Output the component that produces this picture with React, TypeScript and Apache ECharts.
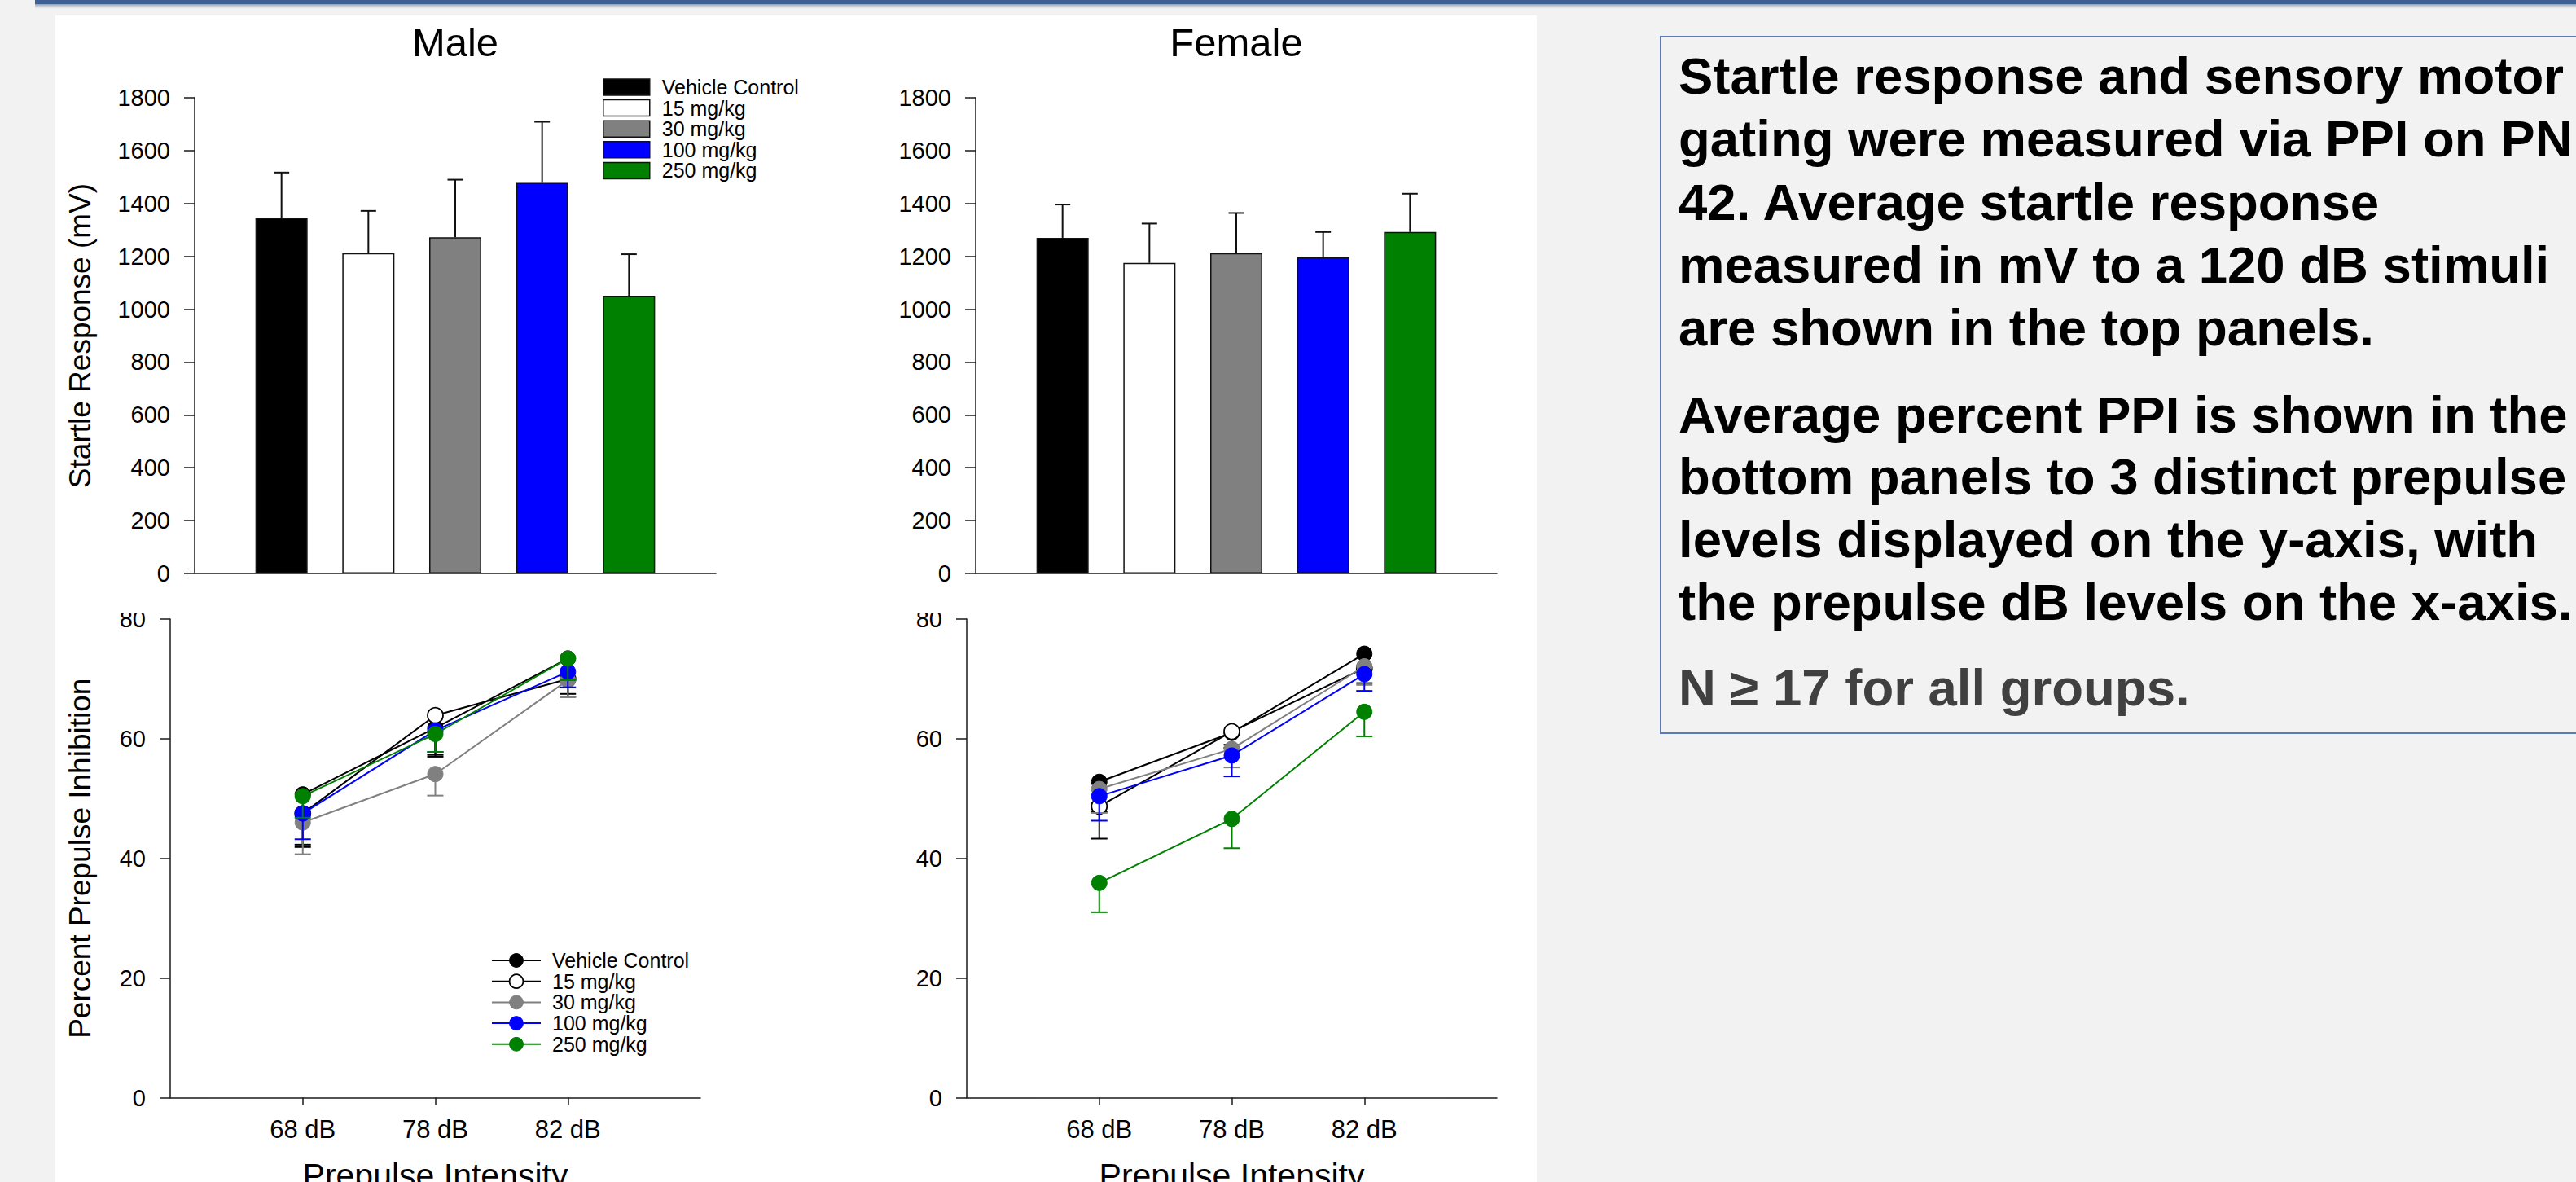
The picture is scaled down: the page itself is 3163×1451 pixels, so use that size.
import React, { useEffect, useRef } from 'react';
import * as echarts from 'echarts';

const FONT = 'Liberation Sans';

// Groups / legend
const groups = ['Vehicle Control', '15 mg/kg', '30 mg/kg', '100 mg/kg', '250 mg/kg'];
const barColors = ['#000000', '#ffffff', '#808080', '#0000ff', '#008000'];
const lineColors = ['#000000', '#000000', '#808080', '#0000ff', '#008000'];
const markerFill = ['#000000', '#ffffff', '#808080', '#0000ff', '#008000'];

// Startle response (mV): mean and top of SEM bar
const maleStartle = [1345, 1212, 1272, 1478, 1051];
const maleStartleErr = [1517, 1372, 1490, 1709, 1208];
const femaleStartle = [1270, 1175, 1212, 1197, 1292];
const femaleStartleErr = [1396, 1324, 1364, 1292, 1437];

// Prepulse intensities
const prepulseLabels = ['68 dB', '78 dB', '82 dB'];

// Percent PPI, per group (68, 78, 82 dB)
const malePPI = [
  [50.7, 61.8, 73.4],
  [47.5, 63.9, 70.0],
  [46.0, 54.1, 69.8],
  [47.5, 61.4, 71.2],
  [50.4, 60.8, 73.4],
];
const malePPIErr = [
  [41.9, 57.0, 67.5],
  [42.3, 57.3, 67.0],
  [40.7, 50.5, 67.0],
  [43.2, 57.8, 68.6],
  [46.8, 57.8, 69.8],
];
const femalePPI = [
  [52.8, 61.0, 74.2],
  [48.7, 61.2, 71.8],
  [51.6, 58.3, 72.1],
  [50.4, 57.2, 70.8],
  [35.9, 46.6, 64.5],
];
const femalePPIErr = [
  [43.3, 58.5, 71.5],
  [47.8, 59.0, 69.3],
  [47.6, 55.2, 69.0],
  [46.3, 53.7, 68.0],
  [31.0, 41.7, 60.4],
];

const startleAxis = { min: 0, max: 1800, interval: 200 };
const ppiAxis = { min: 0, max: 80, interval: 20 };

const panelPara1 = [
  'Startle response and sensory motor',
  'gating were measured via PPI on PN',
  '42. Average startle response',
  'measured in mV to a 120 dB stimuli',
  'are shown in the top panels.',
];
const panelPara2 = [
  'Average percent PPI is shown in the',
  'bottom panels to 3 distinct prepulse',
  'levels displayed on the y-axis, with',
  'the prepulse dB levels on the x-axis.',
];
const panelPara3 = ['N ≥ 17 for all groups.'];

const AXIS_COLOR = '#1a1a1a';

function yAxisCfg(gridIndex: number, range: any, name: string, nameGap: number) {
  return {
    type: 'value',
    gridIndex,
    min: range.min,
    max: range.max,
    interval: range.interval,
    name,
    nameLocation: 'middle',
    nameGap,
    nameRotate: 90,
    nameTextStyle: { fontSize: 37, fontFamily: FONT, color: '#000' },
    axisLine: { show: true, lineStyle: { color: AXIS_COLOR, width: 1.5 } },
    axisTick: { show: true, inside: false, length: 13, lineStyle: { color: AXIS_COLOR, width: 1.5 } },
    axisLabel: {
      show: true,
      margin: 30,
      fontSize: 29,
      fontFamily: FONT,
      color: '#000',
      formatter: (v: number) => String(v),
    },
    splitLine: { show: false },
  };
}

function barBlock(gi: number, values: number[], errs: number[], tag: string) {
  const out: any[] = [];
  out.push({
    type: 'custom',
    name: tag + ' err',
    xAxisIndex: gi,
    yAxisIndex: gi,
    silent: true,
    z: 1,
    data: values.map((v, i) => [i + 1, v, errs[i]]),
    renderItem: (params: any, api: any) => {
      const b = api.coord([api.value(0), api.value(1)]);
      const t = api.coord([api.value(0), api.value(2)]);
      const st = { stroke: '#111', lineWidth: 2 };
      return {
        type: 'group',
        children: [
          { type: 'line', shape: { x1: b[0], y1: b[1], x2: t[0], y2: t[1] }, style: st },
          { type: 'line', shape: { x1: t[0] - 9.5, y1: t[1], x2: t[0] + 9.5, y2: t[1] }, style: st },
        ],
      };
    },
  });
  groups.forEach((g, i) => {
    out.push({
      type: 'bar',
      name: g,
      xAxisIndex: gi,
      yAxisIndex: gi,
      data: [[i + 1, values[i]]],
      barWidth: 64,
      barGap: '-100%',
      itemStyle: { color: barColors[i], borderColor: '#111', borderWidth: 1.5 },
      z: 2,
    });
  });
  return out;
}

function lineBlock(gi: number, vals: number[][], errs: number[][], tag: string) {
  const out: any[] = [];
  groups.forEach((g, i) => {
    const col = lineColors[i];
    out.push({
      type: 'custom',
      name: tag + ' err ' + i,
      xAxisIndex: gi,
      yAxisIndex: gi,
      silent: true,
      z: 10 + i * 2,
      data: vals[i].map((v, k) => [k + 1, v, errs[i][k]]),
      renderItem: (params: any, api: any) => {
        const b = api.coord([api.value(0), api.value(1)]);
        const t = api.coord([api.value(0), api.value(2)]);
        const st = { stroke: col, lineWidth: 2 };
        return {
          type: 'group',
          children: [
            { type: 'line', shape: { x1: b[0], y1: b[1], x2: t[0], y2: t[1] }, style: st },
            { type: 'line', shape: { x1: t[0] - 10, y1: t[1], x2: t[0] + 10, y2: t[1] }, style: st },
          ],
        };
      },
    });
    out.push({
      type: 'line',
      name: 'PPI ' + g,
      xAxisIndex: gi,
      yAxisIndex: gi,
      data: vals[i].map((v, k) => [k + 1, v]),
      symbol: 'circle',
      symbolSize: 19,
      showSymbol: true,
      lineStyle: { color: col, width: 2 },
      itemStyle: { color: markerFill[i], borderColor: col, borderWidth: i === 1 ? 1.8 : 1 },
      z: 11 + i * 2,
    });
  });
  return out;
}

function buildOption() {
  const common = { containLabel: false, outerBoundsMode: 'none' };
  const grids = [
    { ...common, left: 239, top: 120, width: 640, height: 584 },
    { ...common, left: 1198, top: 120, width: 640, height: 584 },
    { ...common, left: 209, top: 760, width: 651, height: 587.5 },
    { ...common, left: 1187, top: 760, width: 651, height: 587.5 },
  ];

  const topX = (gi: number) => ({
    type: 'value',
    gridIndex: gi,
    min: 0,
    max: 6,
    axisLine: { show: true, onZero: false, lineStyle: { color: AXIS_COLOR, width: 1.5 } },
    axisTick: { show: false },
    axisLabel: { show: false },
    splitLine: { show: false },
  });
  const bottomX = (gi: number) => ({
    type: 'value',
    gridIndex: gi,
    min: 0,
    max: 4,
    interval: 1,
    name: 'Prepulse Intensity',
    nameLocation: 'middle',
    nameGap: 75,
    nameTextStyle: { fontSize: 41, fontFamily: FONT, color: '#000' },
    axisLine: { show: true, onZero: false, lineStyle: { color: AXIS_COLOR, width: 1.5 } },
    axisTick: { show: true, length: 9, customValues: [1, 2, 3], lineStyle: { color: AXIS_COLOR, width: 1.5 } },
    axisLabel: {
      show: true,
      customValues: [1, 2, 3],
      margin: 23,
      fontSize: 31,
      fontFamily: FONT,
      color: '#000',
      formatter: (v: number) => prepulseLabels[v - 1] ?? '',
    },
    splitLine: { show: false },
  });

  const series = [
    ...barBlock(0, maleStartle, maleStartleErr, 'male'),
    ...barBlock(1, femaleStartle, femaleStartleErr, 'female'),
    ...lineBlock(2, malePPI, malePPIErr, 'male'),
    ...lineBlock(3, femalePPI, femalePPIErr, 'female'),
  ];

  const textEls: any[] = [];
  const x0 = 2061;
  const ys1 = [93, 170, 248, 325, 402];
  const ys2 = [509, 585, 662, 739];
  const ys3 = [844];
  const addLines = (lines: string[], ys: number[], color: string) => {
    lines.forEach((t, i) => {
      textEls.push({
        type: 'text',
        x: x0,
        y: ys[i],
        z: 20,
        style: {
          text: t,
          fontSize: 63.5,
          fontWeight: 'bold',
          fontFamily: FONT,
          fill: color,
          align: 'left',
          verticalAlign: 'middle',
        },
      });
    });
  };
  addLines(panelPara1, ys1, '#000');
  addLines(panelPara2, ys2, '#000');
  addLines(panelPara3, ys3, '#404040');

  return {
    animation: false,
    backgroundColor: '#f2f2f2',
    textStyle: { fontFamily: FONT },
    title: [
      {
        text: 'Male',
        left: 559,
        top: 27,
        textAlign: 'center',
        padding: 0,
        textStyle: { fontSize: 49, fontWeight: 'normal', fontFamily: FONT, color: '#000' },
      },
      {
        text: 'Female',
        left: 1518,
        top: 27,
        textAlign: 'center',
        padding: 0,
        textStyle: { fontSize: 49, fontWeight: 'normal', fontFamily: FONT, color: '#000' },
      },
    ],
    legend: [
      {
        data: groups.map((g, i) => ({
          name: g,
          icon: 'rect',
          itemStyle: { color: barColors[i], borderColor: '#111', borderWidth: 1.5 },
        })),
        orient: 'vertical',
        left: 740,
        top: 94.5,
        padding: 0,
        itemWidth: 57,
        itemHeight: 20,
        itemGap: 0.6,
        selectedMode: false,
        textStyle: { fontSize: 25, fontFamily: FONT, color: '#000', padding: [0, 0, 0, 10] },
      },
      {
        data: groups.map((g, i) => ({
          name: 'PPI ' + g,
          itemStyle: { color: markerFill[i], borderColor: lineColors[i], borderWidth: i === 1 ? 1.8 : 1 },
          lineStyle: { color: lineColors[i], width: 2 },
        })),
        orient: 'vertical',
        left: 603,
        top: 1166.5,
        padding: 0,
        itemWidth: 60,
        itemHeight: 21,
        itemGap: 0.7,
        selectedMode: false,
        formatter: (n: string) => n.replace(/^PPI /, ''),
        textStyle: { fontSize: 25, fontFamily: FONT, color: '#000', padding: [0, 0, 0, 9] },
      },
    ],
    grid: grids,
    xAxis: [topX(0), topX(1), bottomX(2), bottomX(3)],
    yAxis: [
      yAxisCfg(0, startleAxis, 'Startle Response (mV)', 122),
      yAxisCfg(1, startleAxis, '', 30),
      yAxisCfg(2, ppiAxis, 'Percent Prepulse Inhibition', 92),
      yAxisCfg(3, ppiAxis, '', 30),
    ],
    graphic: [
      {
        type: 'group',
        z: -10,
        children: [
          { type: 'rect', z: -10, shape: { x: 68, y: 19, width: 1819, height: 1432 }, style: { fill: '#ffffff' } },
          { type: 'rect', z: -10, shape: { x: 43, y: 0, width: 3120, height: 5 }, style: { fill: '#3d5f93' } },
          {
            type: 'rect',
            z: -10,
            shape: { x: 43, y: 5, width: 3120, height: 7 },
            style: {
              fill: new echarts.graphic.LinearGradient(0, 0, 0, 1, [
                { offset: 0, color: '#8f9aab' },
                { offset: 1, color: 'rgba(242,242,242,0)' },
              ]),
            },
          },
        ],
      },
      {
        type: 'rect',
        z: 50,
        shape: { x: 120, y: 716, width: 80, height: 37 },
        style: { fill: '#ffffff' },
      },
      {
        type: 'rect',
        z: 50,
        shape: { x: 1100, y: 716, width: 80, height: 37 },
        style: { fill: '#ffffff' },
      },
      {
        type: 'rect',
        z: 5,
        shape: { x: 2039, y: 45, width: 1200, height: 855 },
        style: { fill: 'none', stroke: '#5a7bb3', lineWidth: 2 },
      },
      ...textEls,
    ],
    series,
  };
}

export default function App() {
  const ref = useRef<HTMLDivElement>(null);
  useEffect(() => {
    document.body.style.margin = '0';
    if (!ref.current) return;
    const chart = echarts.init(ref.current, undefined, { renderer: 'svg' });
    chart.setOption(buildOption() as any);
    return () => chart.dispose();
  }, []);
  return <div ref={ref} style={{ width: 3163, height: 1451, overflow: 'hidden' }} />;
}
